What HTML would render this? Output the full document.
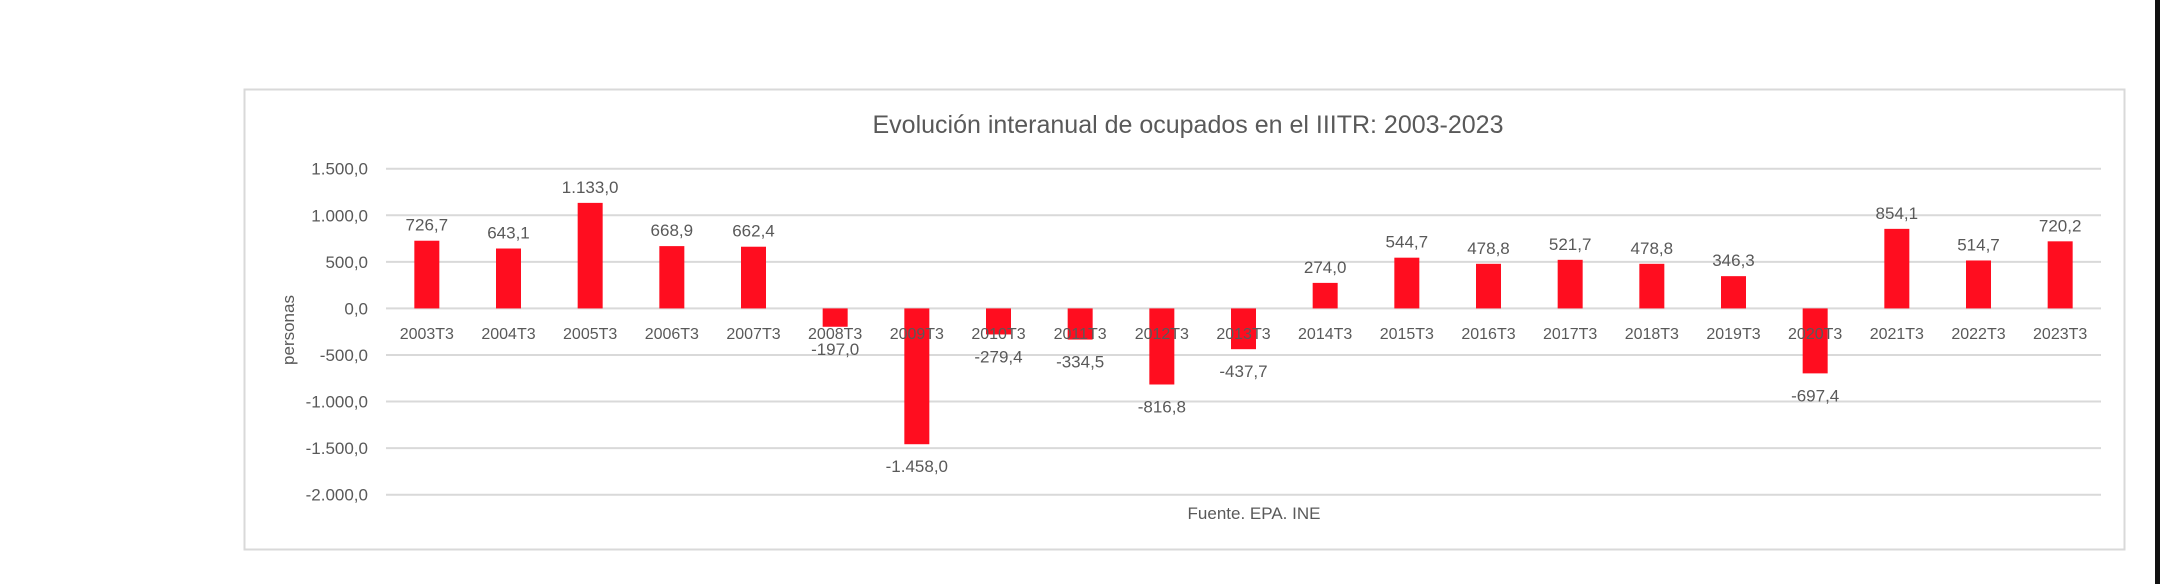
<!DOCTYPE html>
<html><head><meta charset="utf-8"><style>
html,body{margin:0;padding:0;background:#fff;width:2160px;height:584px;overflow:hidden}
svg text{font-family:"Liberation Sans",sans-serif;fill:#595959}
</style></head><body>
<svg id="chart" width="2160" height="584" xmlns="http://www.w3.org/2000/svg">
<rect x="2155" y="0" width="5" height="584" fill="#111"/>
<rect x="244.5" y="89.5" width="1880" height="460" fill="#fff" stroke="#d9d9d9" stroke-width="2"/>
<text x="1188" y="133" font-size="25" text-anchor="middle">Evolución interanual de ocupados en el IIITR: 2003-2023</text>
<text transform="translate(294,330) rotate(-90)" font-size="17" text-anchor="middle">personas</text>
<text x="1254" y="519" font-size="17" text-anchor="middle">Fuente. EPA. INE</text>
<g id="grid"></g><g id="bars"></g><g id="labels"></g>
</svg>
<script>
const categories=["2003T3","2004T3","2005T3","2006T3","2007T3","2008T3","2009T3","2010T3","2011T3","2012T3","2013T3","2014T3","2015T3","2016T3","2017T3","2018T3","2019T3","2020T3","2021T3","2022T3","2023T3"];
const values=[726.7,643.1,1133.0,668.9,662.4,-197.0,-1458.0,-279.4,-334.5,-816.8,-437.7,274.0,544.7,478.8,521.7,478.8,346.3,-697.4,854.1,514.7,720.2];
const valueLabels=["726,7","643,1","1.133,0","668,9","662,4","-197,0","-1.458,0","-279,4","-334,5","-816,8","-437,7","274,0","544,7","478,8","521,7","478,8","346,3","-697,4","854,1","514,7","720,2"];
const yTicks=[1500,1000,500,0,-500,-1000,-1500,-2000];
const yTickLabels=["1.500,0","1.000,0","500,0","0,0","-500,0","-1.000,0","-1.500,0","-2.000,0"];
const NS="http://www.w3.org/2000/svg";
const plotL=386,plotR=2101,yTop=168.7,yBot=494.7,vTop=1500,vBot=-2000;
function y(v){return yTop+(vTop-v)/(vTop-vBot)*(yBot-yTop);}
const step=(plotR-plotL)/categories.length;
function x(i){return plotL+step*(i+0.5);}
function mk(tag,attrs,parent,txt){const e=document.createElementNS(NS,tag);for(const k in attrs)e.setAttribute(k,attrs[k]);if(txt!==undefined)e.textContent=txt;parent.appendChild(e);return e;}
const grid=document.getElementById('grid'),bars=document.getElementById('bars'),labels=document.getElementById('labels');
yTicks.forEach((t,i)=>{
  const l=mk('line',{x1:plotL,x2:plotR,y1:y(t),y2:y(t),stroke:'#d9d9d9','stroke-width':2},grid);
  
  
  const tx=mk('text',{x:368,y:y(t)+6,'font-size':17,'text-anchor':'end'},grid,yTickLabels[i]);
  
  
});
const bw=25;
values.forEach((v,i)=>{
  const y0=y(0),yv=y(v);
  const r=mk('rect',{x:x(i)-bw/2,y:Math.min(y0,yv),width:bw,height:Math.abs(yv-y0),fill:'#ff0d1f'},bars);
  
  
  const c=mk('text',{x:x(i),y:339,'font-size':16,'text-anchor':'middle'},labels,categories[i]);
  
  
  const ly=v>=0?yv-10:yv+28;
  const d=mk('text',{x:x(i),y:ly,'font-size':17,'text-anchor':'middle'},labels,valueLabels[i]);
  
  
});
</script>
</body></html>
